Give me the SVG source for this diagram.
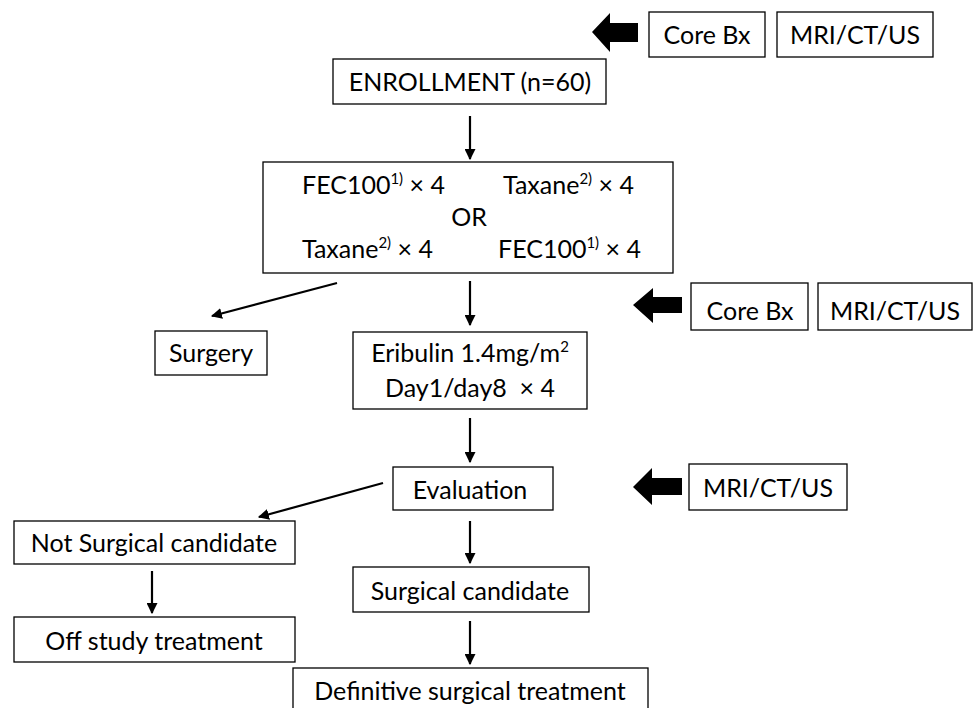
<svg xmlns="http://www.w3.org/2000/svg" width="974" height="708" viewBox="0 0 974 708">
<defs>
<style>
.box{fill:#fff;stroke:#000;stroke-width:1.3}
.t{font-family:Lato,"Liberation Sans",sans-serif;font-size:25px;fill:#000;text-anchor:middle}
.ts{text-anchor:start}
.sup{font-size:15px}
.c{stroke:#000;stroke-width:2.2;fill:none;marker-end:url(#ah)}
.blk{fill:#000}
</style>
<marker id="ah" viewBox="0 0 10 10" refX="9" refY="5" markerWidth="5" markerHeight="5" orient="auto" markerUnits="strokeWidth">
<path d="M0,0 L10,5 L0,10 z" fill="#000"/>
</marker>
</defs>
<rect width="974" height="708" fill="#fff"/>

<g id="connectors">
<line class="c" x1="470" y1="116" x2="470" y2="159"/>
<line class="c" x1="470" y1="281" x2="470" y2="325"/>
<line class="c" x1="337" y1="283" x2="212" y2="316"/>
<line class="c" x1="470" y1="418" x2="470" y2="462"/>
<line class="c" x1="383" y1="483" x2="259" y2="517"/>
<line class="c" x1="470" y1="521" x2="470" y2="563"/>
<line class="c" x1="152" y1="571" x2="152" y2="613"/>
<line class="c" x1="470" y1="621" x2="470" y2="664"/>
</g>

<g id="arrow-top"><path class="blk" d="M592,32 L610,13 L610,23 L638,23 L638,42 L610,42 L610,52 Z"/></g>
<g id="arrow-mid"><path class="blk" d="M633,305 L653,288 L653,297 L682,297 L682,313 L653,313 L653,323 Z"/></g>
<g id="arrow-bot"><path class="blk" d="M633,487 L652,468 L652,478 L682,478 L682,495 L652,495 L652,505 Z"/></g>

<g id="corebx-top"><rect class="box" x="649" y="12" width="116" height="45"/><text class="t" x="707" y="44">Core Bx</text></g>
<g id="mri-top"><rect class="box" x="777" y="12" width="156" height="45"/><text class="t" x="855" y="44">MRI/CT/US</text></g>

<g id="enrollment"><rect class="box" x="333" y="59" width="273" height="45"/><text class="t" x="470" y="91">ENROLLMENT (n=60)</text></g>

<g id="regimen"><rect class="box" x="263" y="162" width="410" height="111"/>
<text class="t ts" x="302" y="194">FEC100<tspan class="sup" dy="-10">1)</tspan><tspan dy="10"> × 4</tspan></text>
<text class="t ts" x="503" y="194">Taxane<tspan class="sup" dy="-10">2)</tspan><tspan dy="10"> × 4</tspan></text>
<text class="t" x="469" y="226">OR</text>
<text class="t ts" x="302" y="258">Taxane<tspan class="sup" dy="-10">2)</tspan><tspan dy="10"> × 4</tspan></text>
<text class="t ts" x="498" y="258">FEC100<tspan class="sup" dy="-10">1)</tspan><tspan dy="10"> × 4</tspan></text>
</g>

<g id="corebx-mid"><rect class="box" x="691" y="283" width="117" height="47"/><text class="t" x="750" y="320">Core Bx</text></g>
<g id="mri-mid"><rect class="box" x="818" y="283" width="154" height="47"/><text class="t" x="895" y="320">MRI/CT/US</text></g>

<g id="surgery"><rect class="box" x="155" y="331" width="112" height="44"/><text class="t" x="211" y="362">Surgery</text></g>

<g id="eribulin"><rect class="box" x="353" y="332" width="234" height="77"/>
<text class="t" x="470" y="362">Eribulin 1.4mg/m<tspan class="sup" dy="-10">2</tspan></text>
<text class="t" x="470" y="397" xml:space="preserve">Day1/day8  × 4</text>
</g>

<g id="evaluation"><rect class="box" x="393" y="467" width="160" height="43"/><text class="t" x="470" y="499">Evaluation</text></g>
<g id="mri-bot"><rect class="box" x="689" y="464" width="158" height="46"/><text class="t" x="768" y="497">MRI/CT/US</text></g>

<g id="not-surgical"><rect class="box" x="14" y="521" width="281" height="43"/><text class="t" x="154" y="552">Not Surgical candidate</text></g>
<g id="off-study"><rect class="box" x="14" y="617" width="281" height="45"/><text class="t" x="154" y="650">Off study treatment</text></g>
<g id="surgical"><rect class="box" x="353" y="567" width="236" height="45"/><text class="t" x="470" y="600">Surgical candidate</text></g>
<g id="definitive"><rect class="box" x="293" y="668" width="355" height="45"/><text class="t" x="470" y="700">Definitive surgical treatment</text></g>
</svg>
